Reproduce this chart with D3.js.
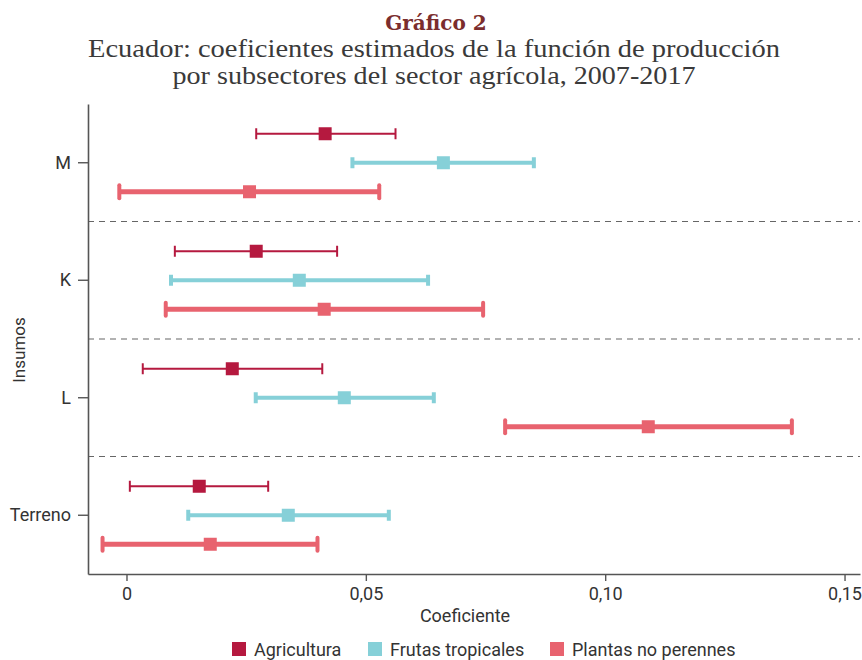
<!DOCTYPE html>
<html>
<head>
<meta charset="utf-8">
<script src="https://cdn.jsdelivr.net/npm/d3@7"></script>
<style>
  body { margin: 0; background: #fff; }
  text { font-family: "Liberation Sans Narrow", "Roboto", sans-serif; }
</style>
</head>
<body>
<div id="chart"></div>
<script>
// data
var insumos = ["M", "K", "L", "Terreno"];
var series = ["Agricultura", "Frutas tropicales", "Plantas no perennes"];
var colors = ["#b5193f", "#86d0d8", "#e8636f"];
var xTicks = [0, 0.05, 0.10, 0.15];

// estimate, lower, upper per insumo (same order as insumos)
var agricultura = [
    [0.0415, 0.0271, 0.0562],
    [0.0271, 0.0101, 0.0440],
    [0.0221, 0.0034, 0.0409],
    [0.0152, 0.0007, 0.0296]
];
var frutas = [
    [0.0662, 0.0472, 0.0851],
    [0.0361, 0.0093, 0.0630],
    [0.0455, 0.0270, 0.0642],
    [0.0338, 0.0129, 0.0548]
];
var plantas = [
    [0.0257, -0.0015, 0.0528],
    [0.0413, 0.0082, 0.0745],
    [0.1090, 0.0791, 0.1390],
    [0.0175, -0.0050, 0.0399]
];

var svgWidth = 862;
var svgHeight = 660;

var svg = d3.select("#chart")
    .append("svg")
    .attr("width", svgWidth)
    .attr("height", svgHeight);

// title
svg.append("text")
    .attr("x", 436).attr("y", 30)
    .attr("text-anchor", "middle")
    .style("font-family", "'DejaVu Serif', serif")
    .style("font-weight", "bold")
    .style("font-size", "20px")
    .attr("fill", "#7b2d2d")
    .text("Gráfico 2");

svg.append("text")
    .attr("x", 434).attr("y", 57)
    .attr("text-anchor", "middle")
    .attr("textLength", 692)
    .attr("lengthAdjust", "spacingAndGlyphs")
    .style("font-family", "'Liberation Serif', serif")
    .style("font-size", "26px")
    .attr("fill", "#3a3a3a")
    .text("Ecuador: coeficientes estimados de la función de producción");

svg.append("text")
    .attr("x", 434).attr("y", 84)
    .attr("text-anchor", "middle")
    .attr("textLength", 523)
    .attr("lengthAdjust", "spacingAndGlyphs")
    .style("font-family", "'Liberation Serif', serif")
    .style("font-size", "26px")
    .attr("fill", "#3a3a3a")
    .text("por subsectores del sector agrícola, 2007-2017");

// scales
var xScale = d3.scaleLinear()
    .domain([-0.00804, 0.15323])
    .range([88, 860]);

var yScale = d3.scaleBand()
    .domain(insumos)
    .range([104, 574]);

var offset = d3.scalePoint()
    .domain(series)
    .range([-29, 29]);

// separators
svg.append("g")
    .selectAll("line")
    .data(insumos.slice(1))
    .enter()
    .append("line")
    .attr("x1", 88).attr("x2", 860)
    .attr("y1", d => yScale(d))
    .attr("y2", d => yScale(d))
    .attr("stroke", "#666")
    .attr("stroke-width", 1.2)
    .attr("stroke-dasharray", "6,5");

// axes
var xAxis = d3.axisBottom(xScale)
    .tickValues(xTicks)
    .tickSizeOuter(0)
    .tickSizeInner(7)
    .tickPadding(6)
    .tickFormat(d => d === 0 ? "0" : d3.format(".2f")(d).replace(".", ","));

var yAxis = d3.axisLeft(yScale)
    .tickSizeOuter(0)
    .tickSizeInner(10)
    .tickPadding(7);

var gx = svg.append("g")
    .attr("transform", "translate(0, 574)")
    .call(xAxis);

var gy = svg.append("g")
    .attr("transform", "translate(88, 0)")
    .call(yAxis);

[gx, gy].forEach(function(g) {
    g.select(".domain").attr("stroke", "#555").attr("stroke-width", 1.6);
    g.selectAll(".tick line").attr("stroke", "#555").attr("stroke-width", 1.4);
    g.selectAll(".tick text")
        .style("font-family", "'Liberation Sans Narrow', Roboto, sans-serif")
        .style("font-size", "18px")
        .attr("fill", "#333");
});

svg.append("text")
    .attr("x", 465).attr("y", 622)
    .attr("text-anchor", "middle")
    .style("font-size", "18px")
    .attr("fill", "#333")
    .text("Coeficiente");

svg.append("text")
    .attr("transform", "translate(25, 350) rotate(-90)")
    .attr("text-anchor", "middle")
    .style("font-size", "17px")
    .attr("fill", "#333")
    .text("Insumos");

// error bars
var seriesData = [agricultura, frutas, plantas];
var lineW = [2, 4, 5];
var capH = [11, 11, 13];
var markS = [13, 13, 13];

seriesData.forEach(function(vals, s) {
    var name = series[s];
    var rows = vals.map((v, i) => ({ cat: insumos[i], est: v[0], lo: v[1], hi: v[2] }));
    var g = svg.append("g");
    var yc = d => yScale(d.cat) + yScale.bandwidth() / 2 + offset(name);

    g.selectAll(".bar").data(rows).enter().append("line")
        .attr("x1", d => xScale(d.lo)).attr("x2", d => xScale(d.hi))
        .attr("y1", yc).attr("y2", yc)
        .attr("stroke", colors[s]).attr("stroke-width", lineW[s]);

    ["lo", "hi"].forEach(function(k) {
        g.selectAll(".cap-" + k).data(rows).enter().append("line")
            .attr("x1", d => xScale(d[k])).attr("x2", d => xScale(d[k]))
            .attr("y1", d => yc(d) - capH[s] / 2).attr("y2", d => yc(d) + capH[s] / 2)
            .attr("stroke", colors[s])
            .attr("stroke-width", s === 0 ? 2 : 4)
            .attr("stroke-linecap", s === 2 ? "round" : "butt");
    });

    g.selectAll("rect").data(rows).enter().append("rect")
        .attr("x", d => xScale(d.est) - markS[s] / 2)
        .attr("y", d => yc(d) - markS[s] / 2)
        .attr("width", markS[s]).attr("height", markS[s])
        .attr("fill", colors[s]);
});

// legend
var legendX = [232, 368, 550];
var legend = svg.append("g");
series.forEach(function(name, i) {
    legend.append("rect")
        .attr("x", legendX[i]).attr("y", 642)
        .attr("width", 14).attr("height", 14)
        .attr("fill", colors[i]);
    legend.append("text")
        .attr("x", legendX[i] + 22).attr("y", 656)
        .style("font-size", "18px")
        .attr("fill", "#333")
        .text(name);
});
</script>
</body>
</html>
